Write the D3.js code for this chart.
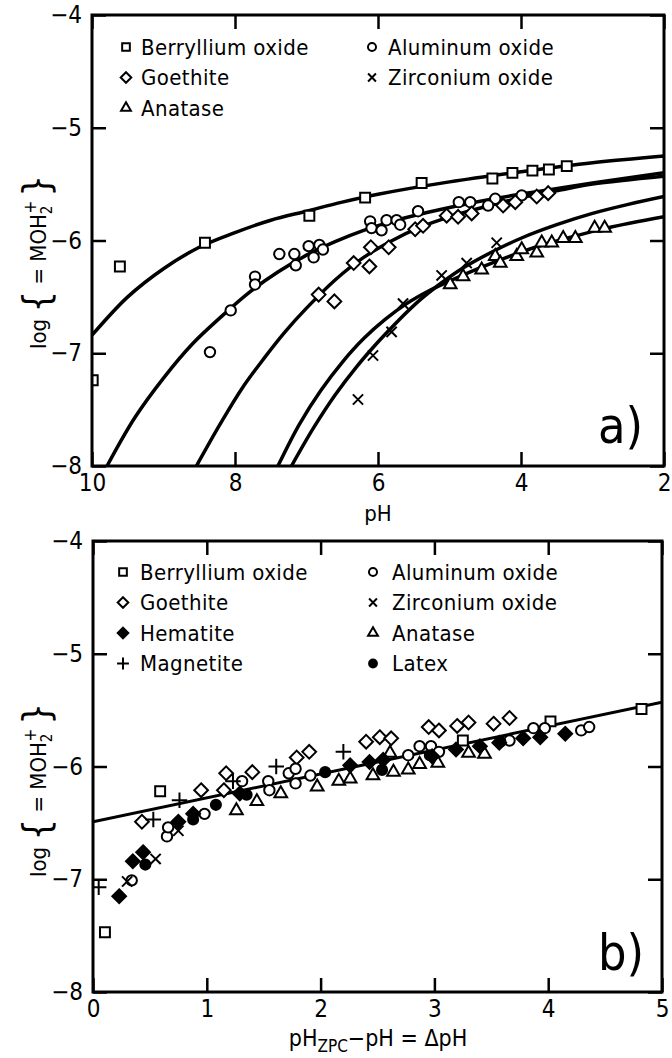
<!DOCTYPE html>
<html><head><meta charset="utf-8">
<script src="https://cdn.jsdelivr.net/npm/d3@7"></script>
<style>
html,body{margin:0;padding:0;background:#fff;}
svg text{font-family:"Liberation Sans Narrow","DejaVu Sans Condensed","Arial Narrow",sans-serif;fill:#000;}
</style></head>
<body><svg id="c" width="672" height="1058"></svg>
<script>
// ---------------- DATA : panel a (pH, log{=MOH2+}) ----------------
const aTicksX = [10, 8, 6, 4, 2];
const aTicksY = [-4, -5, -6, -7, -8];
const aBeO = [[9.99,-7.24],[9.61,-6.23],[8.42,-6.02],[6.96,-5.78],[6.18,-5.62],[5.39,-5.49],[4.40,-5.45],[4.12,-5.40],[3.84,-5.38],[3.61,-5.37],[3.36,-5.34]];
const aAl = [[8.35,-6.99],[8.06,-6.62],[7.72,-6.32],[7.72,-6.39],[7.38,-6.12],[7.17,-6.12],[7.15,-6.22],[6.97,-6.05],[6.90,-6.15],[6.82,-6.04],[6.77,-6.08],[6.11,-5.83],[6.09,-5.89],[5.88,-5.82],[5.74,-5.82],[5.69,-5.86],[5.95,-5.91],[5.44,-5.74],[4.87,-5.66],[4.71,-5.66],[4.36,-5.63],[4.46,-5.69],[3.99,-5.60]];
const aGoe = [[6.83,-6.48],[6.61,-6.54],[6.34,-6.20],[6.12,-6.23],[6.10,-6.06],[5.85,-6.06],[5.48,-5.90],[5.37,-5.87],[5.04,-5.78],[4.88,-5.79],[4.69,-5.76],[4.25,-5.69],[4.08,-5.66],[3.78,-5.61],[3.62,-5.58]];
const aZr = [[6.28,-7.41],[6.07,-7.02],[5.81,-6.81],[5.65,-6.56],[5.11,-6.31],[4.76,-6.20],[4.34,-6.02]];
const aAna = [[4.99,-6.39],[4.81,-6.32],[4.55,-6.26],[4.36,-6.14],[4.29,-6.20],[4.06,-6.14],[3.99,-6.08],[3.78,-6.11],[3.71,-6.02],[3.57,-6.02],[3.41,-5.98],[3.24,-5.98],[2.97,-5.89],[2.83,-5.89]];
// fitted curves
const aCurveBeO = [[10,-6.84],[9.5,-6.50],[9.0,-6.25],[8.5,-6.06],[8.0,-5.93],[7.5,-5.82],[7.0,-5.74],[6.5,-5.66],[6.0,-5.59],[5.0,-5.48],[4.0,-5.39],[3.0,-5.31],[2.0,-5.25]];
const aCurveAl = [[9.79,-8.0],[9.4,-7.57],[9.0,-7.22],[8.6,-6.92],[8.2,-6.68],[7.8,-6.46],[7.4,-6.28],[7.0,-6.13],[6.6,-6.01],[6.2,-5.91],[5.8,-5.83],[5.3,-5.75],[4.8,-5.68],[4.3,-5.62],[3.6,-5.55],[3.0,-5.49],[2.0,-5.40]];
const aCurveGoe = [[8.54,-8.0],[8.2,-7.62],[7.9,-7.31],[7.6,-7.05],[7.3,-6.81],[7.0,-6.60],[6.6,-6.35],[6.2,-6.15],[5.8,-6.00],[5.4,-5.88],[5.0,-5.79],[4.5,-5.70],[4.0,-5.62],[3.5,-5.56],[3.0,-5.50],[2.0,-5.43]];
const aCurveZr = [[7.21,-8.0],[6.9,-7.66],[6.6,-7.37],[6.3,-7.12],[6.0,-6.90],[5.7,-6.70],[5.4,-6.52],[5.1,-6.37],[4.8,-6.24],[4.4,-6.10],[4.0,-5.98],[3.5,-5.86],[3.0,-5.76],[2.5,-5.68],[2.0,-5.61]];
const aCurveAna = [[7.40,-8.0],[7.1,-7.63],[6.8,-7.33],[6.5,-7.08],[6.2,-6.87],[5.9,-6.70],[5.6,-6.56],[5.3,-6.45],[5.0,-6.36],[4.6,-6.25],[4.2,-6.15],[3.8,-6.06],[3.3,-5.97],[2.8,-5.89],[2.0,-5.79]];

// ---------------- DATA : panel b (ΔpH, log{=MOH2+}) ----------------
const bTicksX = [0, 1, 2, 3, 4, 5];
const bTicksY = [-4, -5, -6, -7, -8];
const bBeO = [[0.59,-6.22],[0.105,-7.47],[4.82,-5.49],[4.02,-5.60],[3.25,-5.77]];
const bGoe = [[0.43,-6.49],[0.95,-6.21],[1.15,-6.21],[1.17,-6.06],[1.40,-6.05],[1.79,-5.92],[1.90,-5.87],[2.40,-5.78],[2.52,-5.74],[2.62,-5.75],[2.95,-5.65],[3.04,-5.68],[3.20,-5.64],[3.30,-5.61],[3.52,-5.62],[3.66,-5.57]];
const bHem = [[0.23,-7.15],[0.35,-6.84],[0.44,-6.76],[0.75,-6.49],[0.88,-6.42],[1.29,-6.24],[2.26,-5.99],[2.43,-5.96],[2.55,-5.94],[2.98,-5.91],[3.19,-5.85],[3.40,-5.82],[3.57,-5.79],[3.78,-5.75],[3.93,-5.74],[4.15,-5.71]];
const bMag = [[0.05,-7.07],[0.53,-6.47],[0.76,-6.30],[1.23,-6.13],[1.61,-6.00],[2.20,-5.87]];
const bAl = [[0.34,-7.01],[0.65,-6.62],[0.66,-6.54],[0.98,-6.42],[1.31,-6.13],[1.54,-6.13],[1.55,-6.21],[1.72,-6.06],[1.78,-6.02],[1.78,-6.15],[1.91,-6.08],[2.77,-5.90],[2.87,-5.82],[2.97,-5.82],[3.04,-5.87],[3.66,-5.77],[3.87,-5.66],[3.97,-5.66],[4.29,-5.68],[4.36,-5.65]];
const bZr = [[0.30,-7.02],[0.55,-6.82],[0.75,-6.57]];
const bAna = [[1.26,-6.39],[1.44,-6.31],[1.65,-6.24],[1.97,-6.18],[2.16,-6.13],[2.26,-6.11],[2.46,-6.08],[2.64,-6.05],[2.77,-6.03],[2.87,-5.98],[3.03,-5.97],[2.61,-5.88],[3.30,-5.88],[3.44,-5.89]];
const bLatex = [[0.46,-6.87],[0.88,-6.47],[1.08,-6.34],[1.35,-6.25],[2.04,-6.05],[2.54,-6.03],[2.96,-5.90],[3.58,-5.78]];
const bLine = [[0,-6.49],[5,-5.43]];

// ---------------- drawing ----------------
const svg = d3.select("#c");
const sym = {
  square:   {type: d3.symbolSquare2,  size: 125, fill: false},
  circle:   {type: d3.symbolCircle,   size: 85,  fill: false},
  diamond:  {type: d3.symbolDiamond2, size: 120, fill: false},
  triangle: {type: d3.symbolTriangle2,size: 115, fill: false},
  times:    {type: d3.symbolTimes,    size: 70,  fill: false},
  plus:     {type: d3.symbolPlus,     size: 80,  fill: false},
  fdiamond: {type: d3.symbolDiamond2, size: 120, fill: true},
  fcircle:  {type: d3.symbolCircle,   size: 80,  fill: true}
};
function drawSymbols(g, data, x, y, key, scale) {
  const s = sym[key];
  const gen = d3.symbol().type(s.type).size(s.size * (scale || 1));
  g.selectAll(null).data(data).enter().append("path")
    .attr("d", gen)
    .attr("transform", d => `translate(${x(d[0])},${y(d[1])})`)
    .attr("fill", s.fill ? "#000" : "#fff")
    .attr("stroke", "#000")
    .attr("stroke-width", 2);
}

function panel(opts) {
  const {x, y, ticksX, ticksY, id} = opts;
  const g = svg.append("g");
  const [x0, x1] = x.range(), [y0, y1] = y.range();
  g.append("clipPath").attr("id", id).append("rect")
    .attr("x", Math.min(x0,x1)).attr("y", y1).attr("width", Math.abs(x1-x0)).attr("height", y0-y1);
  const fontSize = "24px";
  const ax = (gen, tr, labels) => {
    const a = g.append("g").attr("transform", tr).call(gen);
    a.select(".domain").remove();
    a.selectAll(".tick line").attr("stroke", "#000").attr("stroke-width", 2.5);
    if (!labels) a.selectAll(".tick text").remove();
    else a.selectAll(".tick text").style("font-size", fontSize).attr("fill", "#000");
    return a;
  };
  ax(d3.axisBottom(x).tickValues(ticksX).tickSize(-14).tickPadding(8).tickFormat(d3.format("d")), `translate(0,${y0})`, true);
  ax(d3.axisTop(x).tickValues(ticksX).tickSize(-14), `translate(0,${y1})`, false);
  ax(d3.axisLeft(y).tickValues(ticksY).tickSize(-14).tickPadding(10).tickFormat(d3.format("d")), `translate(${Math.min(x0,x1)},0)`, true);
  ax(d3.axisRight(y).tickValues(ticksY).tickSize(-14), `translate(${Math.max(x0,x1)},0)`, false);
  const plot = g.append("g").attr("clip-path", `url(#${id})`);
  g.append("rect").attr("x", Math.min(x0,x1)).attr("y", y1)
    .attr("width", Math.abs(x1-x0)).attr("height", y0-y1)
    .attr("fill", "none").attr("stroke", "#000").attr("stroke-width", 3);
  return {g, plot};
}

function yTitle(g, cx, cy) {
  const t = g.append("text").attr("transform", `translate(${cx},${cy}) rotate(-90)`)
    .attr("text-anchor", "middle").style("font-size", "22px");
  t.append("tspan").text("log ");
  t.append("tspan").style("font-size", "38px").attr("dy", 3).text("{");
  t.append("tspan").attr("dy", -3).text(" = MOH");
  t.append("tspan").style("font-size", "15px").attr("dy", 6).text("2");
  t.append("tspan").style("font-size", "17px").attr("dy", -16).attr("dx", -8).text("+");
  t.append("tspan").style("font-size", "38px").attr("dy", 13).attr("dx", 4).text("}");
}

function legend(g, items, mx, tx, y0, dy) {
  items.forEach((it, i) => {
    const yy = y0 + i * dy;
    const s = sym[it.key];
    g.append("path").attr("d", d3.symbol().type(s.type).size(s.size * 0.6)())
      .attr("transform", `translate(${mx},${yy})`)
      .attr("fill", s.fill ? "#000" : "#fff").attr("stroke", "#000").attr("stroke-width", 2);
    g.append("text").attr("x", tx).attr("y", yy).attr("dy", "0.35em")
      .style("font-size", "22px").style("letter-spacing", "0.4px").text(it.name);
  });
}

const line = (x, y) => d3.line().x(d => x(d[0])).y(d => y(d[1])).curve(d3.curveCatmullRom.alpha(0.5));

// ---- panel a ----
const xa = d3.scaleLinear().domain([10, 2]).range([92, 664]);
const ya = d3.scaleLinear().domain([-8, -4]).range([466, 15]);
const A = panel({x: xa, y: ya, ticksX: aTicksX, ticksY: aTicksY, id: "clipA"});
[aCurveBeO, aCurveAl, aCurveGoe, aCurveZr, aCurveAna].forEach(c =>
  A.plot.append("path").datum(c).attr("d", line(xa, ya)).attr("fill", "none")
    .attr("stroke", "#000").attr("stroke-width", 3.5));
drawSymbols(A.plot, aBeO, xa, ya, "square");
drawSymbols(A.plot, aAl, xa, ya, "circle");
drawSymbols(A.plot, aGoe, xa, ya, "diamond");
drawSymbols(A.plot, aAna, xa, ya, "triangle");
drawSymbols(A.plot, aZr, xa, ya, "times");
legend(A.g, [{key:"square",name:"Berryllium oxide"},{key:"diamond",name:"Goethite"},{key:"triangle",name:"Anatase"}], 126, 141, 47, 30.5);
legend(A.g, [{key:"circle",name:"Aluminum oxide"},{key:"times",name:"Zirconium oxide"}], 372, 388, 47, 30.5);
A.g.append("text").attr("x", 598).attr("y", 443).style("font-size", "50px").text("a)");
A.g.append("text").attr("x", 378).attr("y", 521).attr("text-anchor", "middle").style("font-size", "22px").text("pH");
yTitle(A.g, 46, 262);

// ---- panel b ----
const xb = d3.scaleLinear().domain([0, 5]).range([93, 662]);
const yb = d3.scaleLinear().domain([-8, -4]).range([992, 541]);
const B = panel({x: xb, y: yb, ticksX: bTicksX, ticksY: bTicksY, id: "clipB"});
B.plot.append("path").datum(bLine).attr("d", d3.line().x(d => xb(d[0])).y(d => yb(d[1])))
  .attr("fill", "none").attr("stroke", "#000").attr("stroke-width", 3);
drawSymbols(B.plot, bBeO, xb, yb, "square");
drawSymbols(B.plot, bGoe, xb, yb, "diamond");
drawSymbols(B.plot, bAl, xb, yb, "circle");
drawSymbols(B.plot, bAna, xb, yb, "triangle");
drawSymbols(B.plot, bZr, xb, yb, "times");
drawSymbols(B.plot, bMag, xb, yb, "plus");
drawSymbols(B.plot, bHem, xb, yb, "fdiamond");
drawSymbols(B.plot, bLatex, xb, yb, "fcircle");
legend(B.g, [{key:"square",name:"Berryllium oxide"},{key:"diamond",name:"Goethite"},{key:"fdiamond",name:"Hematite"},{key:"plus",name:"Magnetite"}], 123, 140, 572, 30.5);
legend(B.g, [{key:"circle",name:"Aluminum oxide"},{key:"times",name:"Zirconium oxide"},{key:"triangle",name:"Anatase"},{key:"fcircle",name:"Latex"}], 373, 392, 572, 30.5);
B.g.append("text").attr("x", 598).attr("y", 970).style("font-size", "50px").text("b)");
const tb = B.g.append("text").attr("x", 378).attr("y", 1046).attr("text-anchor", "middle").style("font-size", "23px");
tb.append("tspan").text("pH");
tb.append("tspan").style("font-size", "17px").attr("dy", 6).text("ZPC");
tb.append("tspan").attr("dy", -6).text("−pH = ΔpH");
yTitle(B.g, 46, 790);
</script></body></html>
